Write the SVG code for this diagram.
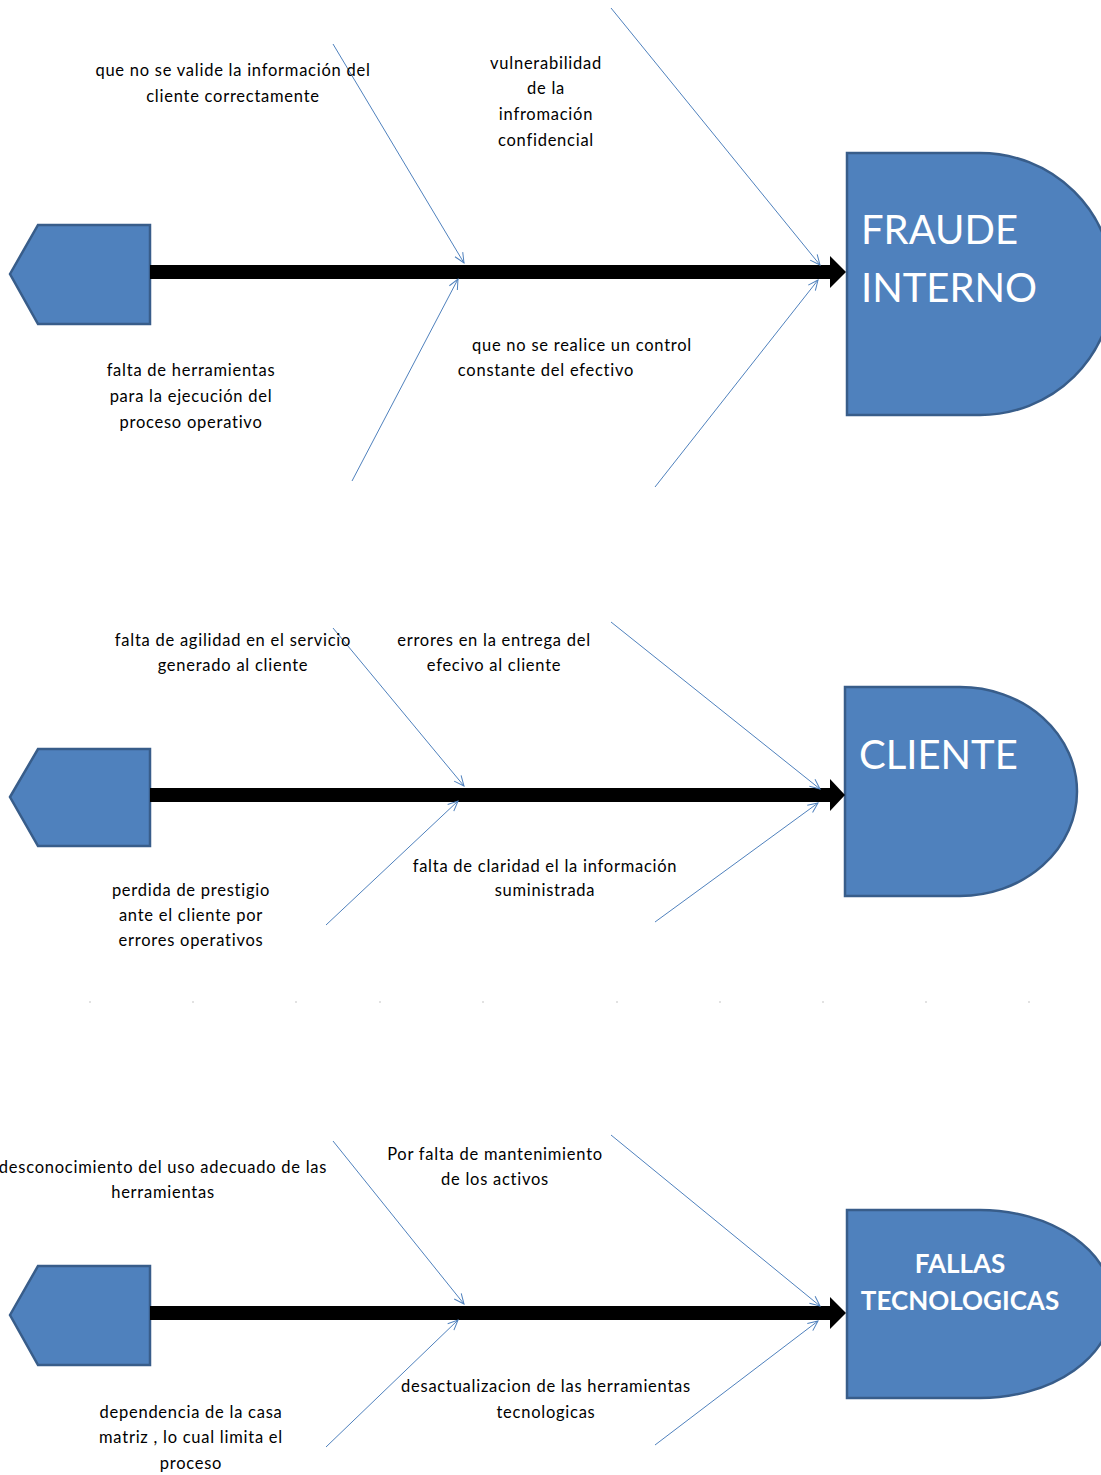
<svg xmlns="http://www.w3.org/2000/svg" width="1101" height="1475" viewBox="0 0 1101 1475">
<defs>
<marker id="ah" markerUnits="userSpaceOnUse" markerWidth="12" markerHeight="12" viewBox="0 0 12 12" refX="11" refY="6" orient="auto">
<path d="M1,1.5 L11,6 L1,10.5" fill="none" stroke="#4F81BD" stroke-width="1"/>
</marker>
</defs>
<style>
.shape{fill:#4F81BD;stroke:#385D8A;stroke-width:2.5}
.spine{fill:#000}
.bone{stroke:#4F81BD;stroke-width:1;fill:none;marker-end:url(#ah)}
.lbl{font-family:Lato,"Liberation Sans",sans-serif;font-size:16.5px;letter-spacing:0.75px;font-variant-ligatures:none;fill:#000;text-anchor:middle}
.head{font-family:Lato,"Liberation Sans",sans-serif;font-size:40px;fill:#fff}
.headb{font-family:Lato,"Liberation Sans",sans-serif;font-size:26px;font-weight:bold;fill:#fff;text-anchor:middle}
.dot{fill:#d8d8d8}
</style>
<rect width="1101" height="1475" fill="#fff"/>

<g id="tail1"><polygon class="shape" points="10,274 38,225 150,225 150,324 38,324"/></g>
<g id="head1"><path class="shape" d="M847,153 L980,153 A133,131 0 0 1 980,415 L847,415 Z"/>
<text class="head" x="861" y="244">FRAUDE</text><text class="head" x="861" y="302">INTERNO</text></g>

<g id="tail2"><polygon class="shape" points="10,797 38,749 150,749 150,846 38,846"/></g>
<g id="head2"><path class="shape" d="M845,687 L960,687 A117,104.5 0 0 1 960,896 L845,896 Z"/>
<text class="head" x="859" y="769">CLIENTE</text></g>

<g id="tail3"><polygon class="shape" points="10,1315 38,1266 150,1266 150,1365 38,1365"/></g>
<g id="head3"><path class="shape" d="M847,1210 L980,1210 A133,94 0 0 1 980,1398 L847,1398 Z"/>
<text class="headb" x="960" y="1273">FALLAS</text><text class="headb" x="960" y="1310">TECNOLOGICAS</text></g>

<g id="connectors">
<polygon class="spine" points="150,265 830,265 830,256 846,272 830,288 830,279 150,279"/>
<polygon class="spine" points="150,788 830,788 830,779 845,795 830,811 830,802 150,802"/>
<polygon class="spine" points="150,1306 830,1306 830,1297 846,1313 830,1329 830,1320 150,1320"/>

<line class="bone" x1="333" y1="44" x2="464" y2="263"/>
<line class="bone" x1="611" y1="8" x2="820" y2="265"/>
<line class="bone" x1="352" y1="481" x2="458" y2="279"/>
<line class="bone" x1="655" y1="487" x2="818" y2="280"/>

<line class="bone" x1="333" y1="628" x2="464" y2="786"/>
<line class="bone" x1="611" y1="622" x2="820" y2="789"/>
<line class="bone" x1="326" y1="925" x2="458" y2="801"/>
<line class="bone" x1="655" y1="922" x2="818" y2="803"/>

<line class="bone" x1="333" y1="1141" x2="464" y2="1304"/>
<line class="bone" x1="611" y1="1135" x2="820" y2="1306"/>
<line class="bone" x1="326" y1="1447" x2="458" y2="1320"/>
<line class="bone" x1="655" y1="1445" x2="818" y2="1321"/>
</g>

<g id="labels">
<text class="lbl" x="233" y="76">que no se valide la información del</text>
<text class="lbl" x="233" y="102">cliente correctamente</text>
<text class="lbl" x="546" y="69">vulnerabilidad</text>
<text class="lbl" x="546" y="94">de la</text>
<text class="lbl" x="546" y="120">infromación</text>
<text class="lbl" x="546" y="146">confidencial</text>
<text class="lbl" x="582" y="351">que no se realice un control</text>
<text class="lbl" x="546" y="376">constante del efectivo</text>
<text class="lbl" x="191" y="376">falta de herramientas</text>
<text class="lbl" x="191" y="402">para la ejecución del</text>
<text class="lbl" x="191" y="428">proceso operativo</text>

<text class="lbl" x="233" y="646">falta de agilidad en el servicio</text>
<text class="lbl" x="233" y="671">generado al cliente</text>
<text class="lbl" x="494" y="646">errores en la entrega del</text>
<text class="lbl" x="494" y="671">efecivo al cliente</text>
<text class="lbl" x="545" y="872">falta de claridad el la información</text>
<text class="lbl" x="545" y="896">suministrada</text>
<text class="lbl" x="191" y="896">perdida de prestigio</text>
<text class="lbl" x="191" y="921">ante el cliente por</text>
<text class="lbl" x="191" y="946">errores operativos</text>

<text class="lbl" x="163" y="1173">desconocimiento del uso adecuado de las</text>
<text class="lbl" x="163" y="1198">herramientas</text>
<text class="lbl" x="495" y="1160">Por falta de mantenimiento</text>
<text class="lbl" x="495" y="1185">de los activos</text>
<text class="lbl" x="546" y="1392">desactualizacion de las herramientas</text>
<text class="lbl" x="546" y="1418">tecnologicas</text>
<text class="lbl" x="191" y="1418">dependencia de la casa</text>
<text class="lbl" x="191" y="1443">matriz , lo cual limita el</text>
<text class="lbl" x="191" y="1469">proceso</text>
</g>

<g id="dots">
<circle class="dot" cx="90" cy="1002" r="1"/><circle class="dot" cx="193" cy="1002" r="1"/><circle class="dot" cx="296" cy="1002" r="1"/><circle class="dot" cx="380" cy="1002" r="1"/><circle class="dot" cx="483" cy="1002" r="1"/><circle class="dot" cx="617" cy="1002" r="1"/><circle class="dot" cx="720" cy="1002" r="1"/><circle class="dot" cx="823" cy="1002" r="1"/><circle class="dot" cx="926" cy="1002" r="1"/><circle class="dot" cx="1029" cy="1002" r="1"/>
</g>
</svg>
